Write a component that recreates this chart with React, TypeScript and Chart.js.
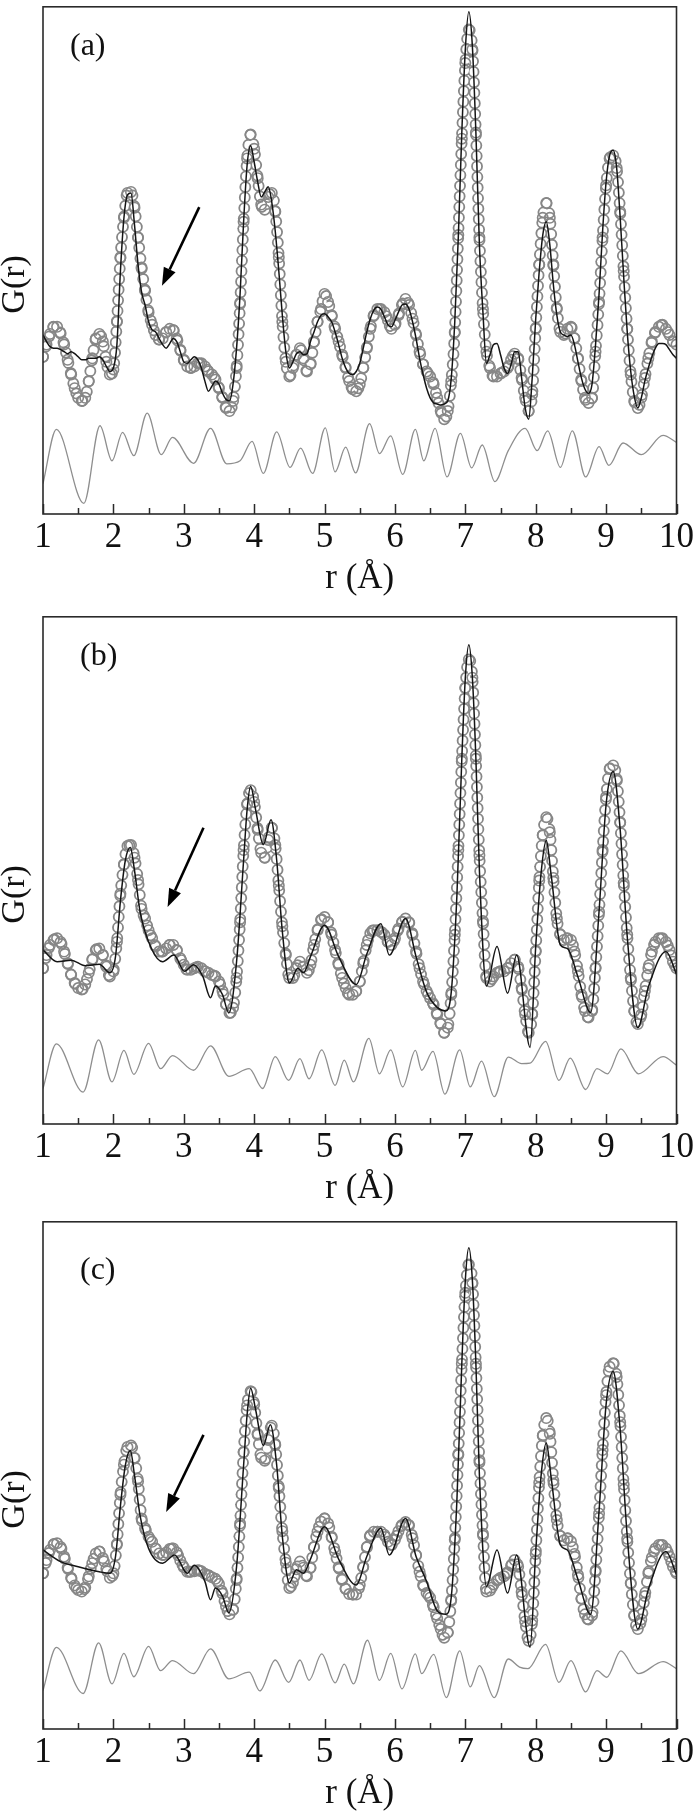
import React, { useEffect, useRef } from "react";
import { Chart, registerables } from "chart.js";
Chart.register(...registerables);

const FONT = "'Liberation Serif', 'Times New Roman', serif";
const AXIS_H = 84;

// r grid (Å) for the sampled experimental and fit curves: 1.00 .. 10.00 step 0.05
const rGrid: number[] = Array.from({ length: 181 }, (_, i) => +(1 + i * 0.05).toFixed(2));
const xMajorTicks = [1, 2, 3, 4, 5, 6, 7, 8, 9, 10];
const xMinorTicks = [1.5, 2.5, 3.5, 4.5, 5.5, 6.5, 7.5, 8.5, 9.5];

type Pt = [number, number];

// ---------- panel (a) ----------
const expA = [
  31.0, 33.4, 35.5, 36.9, 36.9, 35.6, 33.4, 30.4, 27.5, 24.8, 22.9, 22.3, 22.9, 26.2, 30.7, 34.6, 35.5, 34.0, 30.0, 27.5,
  28.5, 37.9, 50.6, 58.4, 63.3, 63.5, 60.4, 54.5, 48.6, 44.0, 39.8, 37.3, 35.3, 34.4, 34.6, 35.9, 36.5, 36.3, 34.6, 32.4,
  30.4, 29.1, 28.8, 29.1, 29.7, 29.7, 29.1, 28.1, 27.5, 26.5, 24.8, 22.9, 20.9, 20.3, 22.3, 28.8, 41.4, 57.6, 70.1, 74.8,
  72.0, 66.2, 61.0, 60.0, 62.5, 63.3, 59.6, 50.6, 37.9, 30.0, 27.1, 28.8, 31.4, 32.7, 30.7, 28.1, 29.5, 34.0, 37.9, 40.4,
  43.4, 41.8, 39.2, 36.5, 34.0, 31.4, 28.8, 26.2, 24.6, 24.2, 25.6, 28.8, 32.7, 36.5, 39.2, 40.4, 40.4, 39.8, 38.2, 36.5,
  37.3, 39.2, 41.2, 42.4, 41.2, 38.5, 35.3, 32.0, 29.5, 28.1, 27.1, 25.6, 22.9, 20.3, 18.7, 20.3, 26.2, 35.9, 55.0, 74.0,
  88.9, 95.5, 91.6, 75.2, 54.5, 40.4, 32.0, 28.8, 27.1, 27.1, 27.7, 28.1, 28.8, 30.4, 31.6, 30.7, 26.8, 22.9, 20.3, 23.6,
  36.5, 49.2, 58.4, 61.3, 58.4, 49.2, 40.4, 35.9, 35.3, 36.5, 36.9, 34.6, 30.7, 26.2, 22.9, 21.9, 22.9, 32.0, 41.8, 54.5,
  64.8, 70.1, 70.7, 68.2, 59.6, 47.9, 36.5, 27.5, 22.3, 20.9, 22.9, 26.8, 30.7, 34.0, 35.9, 36.9, 37.3, 36.5, 35.3, 34.0,
  33.4,
];
const fitA = [
  35.3, 34.0, 33.0, 32.7, 32.7, 32.4, 32.0, 31.6, 32.0, 31.6, 31.0, 30.4, 30.4, 30.7, 30.7, 30.7, 31.0, 30.4, 29.1, 28.1,
  28.8, 33.4, 47.9, 58.4, 62.9, 63.3, 57.0, 49.2, 43.8, 41.2, 37.9, 36.3, 35.9, 34.6, 33.4, 32.7, 33.6, 34.6, 34.0, 32.0,
  30.0, 29.7, 30.4, 31.0, 30.4, 28.8, 26.2, 24.2, 25.2, 26.2, 25.6, 23.8, 22.6, 22.3, 25.6, 32.7, 43.4, 57.6, 68.8, 72.6,
  69.4, 65.5, 62.5, 63.5, 64.5, 61.5, 55.7, 47.9, 39.2, 32.0, 28.8, 30.0, 31.6, 32.0, 31.4, 31.6, 34.0, 35.9, 37.9, 39.2,
  39.5, 38.9, 37.9, 35.9, 33.4, 30.7, 28.8, 27.7, 27.5, 28.1, 29.7, 32.7, 35.9, 38.5, 40.2, 40.8, 40.4, 38.9, 37.3, 36.9,
  38.2, 39.8, 41.2, 41.4, 40.4, 37.9, 34.6, 30.7, 27.5, 24.8, 22.9, 21.9, 21.7, 21.5, 21.7, 22.3, 26.8, 37.9, 54.5, 75.2,
  91.6, 99.0, 92.2, 75.2, 53.1, 39.8, 29.7, 31.4, 33.4, 33.6, 31.4, 28.8, 27.7, 29.5, 32.0, 32.0, 26.8, 20.9, 18.7, 26.8,
  38.5, 47.9, 55.0, 57.6, 53.1, 45.3, 39.2, 35.9, 35.3, 35.0, 35.3, 33.4, 30.0, 26.8, 24.6, 23.8, 25.6, 33.4, 43.4, 55.7,
  65.5, 70.7, 71.7, 68.2, 58.4, 46.7, 35.9, 28.1, 23.2, 20.9, 22.9, 26.2, 28.8, 31.0, 32.7, 33.6, 33.6, 33.4, 32.4, 31.4,
  30.7,
];
const diffA: Pt[] = [
  [1.0, 6.0], [1.19, 16.7], [1.58, 2.1], [1.81, 17.4], [1.98, 10.5], [2.13, 16.1], [2.29, 11.5], [2.48, 19.9],
  [2.68, 11.7], [2.84, 15.1], [3.14, 10.0], [3.38, 16.9], [3.61, 9.9], [3.8, 10.5], [3.97, 14.3], [4.13, 8.0],
  [4.32, 16.2], [4.51, 9.2], [4.66, 13.0], [4.83, 8.0], [5.01, 17.0], [5.15, 8.3], [5.3, 13.2], [5.44, 8.1],
  [5.64, 17.8], [5.78, 11.9], [5.94, 15.4], [6.11, 7.8], [6.29, 16.7], [6.41, 10.5], [6.57, 16.9], [6.74, 7.3],
  [6.93, 15.9], [7.09, 9.1], [7.24, 13.6], [7.42, 6.4], [7.61, 12.5], [7.85, 16.9], [8.02, 12.5], [8.17, 16.4],
  [8.35, 9.2], [8.52, 16.4], [8.71, 7.3], [8.9, 13.3], [9.04, 9.6], [9.24, 14.0], [9.5, 11.7], [9.81, 15.5], [10.0, 14.1],
];
const arrowA: Pt[] = [[3.22, 60.5], [2.69, 45.0]];

// ---------- panel (b) ----------
const expB = [
  30.7, 33.3, 35.3, 36.3, 36.6, 35.9, 34.0, 31.7, 29.4, 27.8, 26.8, 26.5, 27.5, 29.8, 32.4, 34.3, 34.6, 33.3, 31.0, 29.1,
  30.1, 35.9, 45.4, 51.2, 54.8, 55.0, 52.5, 48.1, 42.4, 40.5, 38.2, 36.6, 35.0, 34.0, 34.0, 34.6, 35.3, 35.3, 34.3, 32.7,
  31.4, 30.4, 30.4, 30.7, 31.0, 30.7, 30.1, 29.8, 29.4, 29.1, 28.1, 26.2, 23.6, 21.9, 22.9, 28.8, 39.8, 54.0, 63.0, 65.8,
  63.5, 58.0, 53.5, 52.5, 56.0, 58.4, 55.0, 47.0, 39.0, 33.3, 28.8, 28.8, 30.7, 32.0, 31.0, 29.8, 31.4, 35.3, 38.2, 40.2,
  40.8, 39.8, 37.3, 34.3, 31.4, 28.8, 26.8, 25.5, 25.5, 26.2, 28.1, 31.7, 35.3, 37.6, 38.2, 38.2, 37.9, 37.3, 35.9, 35.3,
  36.6, 38.5, 39.8, 40.5, 39.8, 37.3, 34.0, 30.7, 28.1, 26.2, 24.8, 23.5, 21.6, 19.7, 18.0, 19.0, 25.5, 37.3, 54.0, 72.0,
  86.0, 91.6, 88.0, 72.0, 53.0, 40.0, 28.8, 28.1, 29.1, 29.8, 30.1, 30.1, 30.7, 31.7, 32.4, 31.0, 26.8, 21.6, 18.0, 21.6,
  34.0, 48.0, 57.0, 60.5, 57.5, 48.5, 40.5, 37.3, 36.3, 36.6, 36.3, 34.0, 30.1, 25.5, 22.3, 21.0, 22.3, 30.7, 41.8, 54.0,
  64.5, 70.0, 70.7, 68.0, 59.5, 47.5, 37.3, 28.8, 22.3, 19.7, 21.6, 26.2, 30.7, 34.0, 35.9, 36.6, 36.6, 35.9, 34.3, 32.0,
  30.7,
];
const fitB: Pt[] = [
  [1.0, 34.3], [1.2, 32.0], [1.4, 32.3], [1.6, 31.2], [1.8, 31.5], [1.95, 29.8], [2.03, 33.0], [2.1, 44.0], [2.17, 52.0],
  [2.24, 54.5], [2.3, 50.0], [2.38, 41.8], [2.54, 34.6], [2.7, 32.0], [2.86, 33.3], [3.01, 30.1], [3.14, 31.4],
  [3.27, 29.1], [3.38, 24.9], [3.45, 27.2], [3.55, 25.5], [3.64, 21.9], [3.75, 32.0], [3.85, 52.0], [3.9, 62.0],
  [3.95, 66.6], [4.02, 62.0], [4.13, 55.1], [4.24, 60.0], [4.32, 52.0], [4.4, 38.0], [4.5, 27.8], [4.62, 30.7],
  [4.7, 29.8], [4.8, 33.0], [5.0, 39.2], [5.2, 33.0], [5.45, 27.5], [5.6, 33.5], [5.8, 39.5], [5.92, 33.3],
  [6.15, 40.5], [6.3, 33.0], [6.45, 26.0], [6.6, 23.0], [6.72, 22.3], [6.8, 26.0], [6.88, 45.0], [6.95, 72.0],
  [7.0, 88.0], [7.05, 94.5], [7.1, 88.0], [7.15, 72.0], [7.2, 50.0], [7.3, 27.2], [7.45, 35.0], [7.6, 25.8],
  [7.73, 33.3], [7.92, 15.1], [8.0, 35.0], [8.08, 50.0], [8.15, 55.9], [8.22, 49.0], [8.35, 35.3], [8.45, 34.6],
  [8.6, 29.0], [8.78, 22.0], [8.9, 42.0], [9.0, 63.0], [9.1, 69.5], [9.2, 58.0], [9.3, 37.0], [9.45, 19.0],
  [9.6, 27.0], [9.85, 34.0], [10.0, 29.5],
];
const diffB: Pt[] = [
  [1.0, 7.0], [1.19, 15.8], [1.57, 6.3], [1.79, 16.6], [1.98, 8.3], [2.15, 14.5], [2.29, 9.8], [2.5, 15.9],
  [2.67, 10.9], [2.84, 13.5], [3.14, 10.6], [3.38, 15.4], [3.64, 9.4], [3.93, 10.9], [4.12, 7.0], [4.3, 13.3],
  [4.49, 8.6], [4.65, 12.9], [4.78, 8.9], [4.96, 14.6], [5.15, 7.6], [5.28, 12.6], [5.41, 8.3], [5.63, 16.9],
  [5.78, 9.9], [5.94, 14.6], [6.11, 7.3], [6.29, 14.5], [6.38, 10.6], [6.54, 14.3], [6.71, 5.9], [6.92, 14.6],
  [7.07, 7.3], [7.23, 12.4], [7.41, 5.4], [7.61, 13.2], [7.8, 11.9], [7.92, 12.0], [8.14, 16.3], [8.33, 8.6],
  [8.49, 13.0], [8.71, 6.8], [8.87, 10.9], [9.02, 9.9], [9.21, 14.8], [9.46, 9.9], [9.81, 13.3], [10.0, 11.6],
];
const arrowB: Pt[] = [[3.28, 58.4], [2.77, 42.8]];

// ---------- panel (c) ----------
const expC = [
  30.7, 33.3, 35.3, 36.4, 36.6, 35.9, 34.0, 31.8, 29.8, 28.3, 27.4, 27.1, 27.9, 30.1, 32.7, 34.6, 35.0, 33.7, 31.6, 29.8,
  30.7, 36.5, 46.2, 52.1, 55.6, 55.9, 53.4, 48.8, 41.5, 39.6, 37.9, 36.9, 35.6, 34.6, 34.3, 34.8, 35.5, 35.6, 34.8, 33.2,
  31.9, 31.0, 31.0, 31.1, 31.3, 31.1, 30.6, 30.3, 29.9, 29.6, 28.6, 26.7, 24.2, 22.6, 23.5, 29.4, 40.5, 54.6, 63.8, 66.6,
  64.0, 58.0, 53.5, 52.9, 57.0, 59.8, 56.0, 47.5, 39.0, 32.8, 27.8, 28.9, 31.5, 33.0, 31.8, 30.1, 31.8, 35.9, 38.9, 40.9,
  41.5, 40.5, 37.9, 34.9, 31.9, 29.4, 27.6, 26.6, 26.5, 26.5, 28.4, 32.0, 35.8, 38.2, 38.9, 38.9, 38.9, 38.3, 36.9, 36.3,
  37.3, 39.0, 40.2, 40.8, 40.1, 37.6, 34.3, 31.0, 28.4, 26.8, 25.9, 24.0, 21.8, 19.7, 18.0, 19.0, 25.5, 37.3, 54.0, 72.0,
  86.0, 91.6, 88.0, 72.0, 53.0, 38.5, 27.1, 27.3, 28.5, 29.3, 29.8, 30.1, 30.9, 32.2, 33.3, 32.0, 27.0, 21.2, 17.4, 21.4,
  34.5, 48.6, 57.8, 61.3, 58.2, 49.0, 41.2, 38.0, 37.2, 37.6, 37.0, 34.5, 30.4, 25.7, 22.6, 21.6, 22.4, 31.0, 42.5, 55.0,
  65.8, 71.4, 72.1, 69.4, 60.5, 48.2, 37.5, 28.8, 22.3, 19.7, 21.6, 26.2, 30.7, 33.8, 35.6, 36.3, 36.3, 35.6, 34.0, 32.0,
  30.7,
];
const fitC: Pt[] = [
  [1.0, 35.3], [1.25, 33.0], [1.5, 32.0], [1.8, 31.0], [1.95, 30.7], [2.03, 34.0], [2.1, 44.0], [2.17, 52.0],
  [2.24, 54.9], [2.3, 50.0], [2.38, 42.0], [2.5, 35.6], [2.7, 32.7], [2.87, 34.3], [3.05, 30.7], [3.15, 32.3],
  [3.3, 29.1], [3.38, 25.5], [3.45, 27.8], [3.55, 26.2], [3.64, 22.9], [3.75, 32.0], [3.85, 52.0], [3.9, 62.0],
  [3.95, 67.2], [4.02, 63.0], [4.13, 55.9], [4.23, 60.0], [4.32, 52.0], [4.4, 38.0], [4.5, 28.8], [4.6, 31.4],
  [4.7, 30.7], [4.8, 33.5], [5.0, 39.9], [5.2, 33.5], [5.45, 28.4], [5.6, 34.0], [5.8, 39.6], [5.92, 34.3],
  [6.15, 41.5], [6.3, 34.0], [6.45, 29.1], [6.6, 23.3], [6.72, 22.6], [6.8, 26.0], [6.88, 45.0], [6.95, 72.0],
  [7.0, 88.5], [7.05, 94.9], [7.1, 88.5], [7.15, 72.0], [7.2, 50.0], [7.3, 28.1], [7.45, 35.3], [7.6, 26.8],
  [7.73, 34.3], [7.92, 16.1], [8.0, 35.0], [8.08, 50.5], [8.15, 56.4], [8.22, 49.5], [8.35, 36.3], [8.45, 35.3],
  [8.6, 29.5], [8.78, 22.6], [8.9, 43.0], [9.0, 64.0], [9.1, 70.5], [9.2, 59.0], [9.3, 38.0], [9.45, 19.7],
  [9.6, 27.5], [9.85, 35.0], [10.0, 30.4],
];
const diffC: Pt[] = [
  [1.0, 7.6], [1.19, 16.1], [1.57, 7.0], [1.79, 17.0], [1.98, 8.9], [2.15, 14.9], [2.29, 10.3], [2.5, 16.3],
  [2.67, 11.5], [2.84, 13.5], [3.14, 10.9], [3.38, 15.8], [3.64, 9.9], [3.93, 11.2], [4.08, 7.5], [4.3, 13.6],
  [4.49, 9.2], [4.65, 13.6], [4.78, 9.6], [4.96, 14.8], [5.15, 9.1], [5.28, 12.8], [5.41, 8.9], [5.61, 17.5],
  [5.78, 9.6], [5.94, 14.9], [6.1, 7.9], [6.29, 14.8], [6.38, 10.9], [6.55, 14.7], [6.73, 6.2], [6.92, 15.4],
  [7.07, 8.3], [7.2, 12.5], [7.41, 6.2], [7.61, 13.8], [7.77, 12.2], [7.89, 11.9], [8.14, 16.7], [8.33, 9.2],
  [8.5, 13.5], [8.71, 7.3], [8.87, 11.5], [9.01, 10.2], [9.21, 15.4], [9.46, 10.9], [9.81, 13.3], [10.0, 11.9],
];
const arrowC: Pt[] = [[3.28, 58.0], [2.75, 42.8]];

interface PanelSpec {
  label: string;
  exp: number[];
  fit: Pt[];
  diff: Pt[];
  arrow: Pt[];
  top: number;
  h: number;
  labelX: number;
  labelDy: number;
}

const gridPairs = (ys: number[]): Pt[] => ys.map((y, i) => [rGrid[i], y] as Pt);

const panels: PanelSpec[] = [
  { label: "(a)", exp: expA, fit: gridPairs(fitA), diff: diffA, arrow: arrowA, top: 0, h: 610, labelX: 70, labelDy: 40 },
  { label: "(b)", exp: expB, fit: fitB, diff: diffB, arrow: arrowB, top: 610, h: 605, labelX: 80, labelDy: 40 },
  { label: "(c)", exp: expC, fit: fitC, diff: diffC, arrow: arrowC, top: 1215, h: 598, labelX: 80, labelDy: 49 },
];

const GRAY = "#878787";

function makeDecor(p: PanelSpec) {
  return {
    id: "decor",
    afterDatasetsDraw(chart: any) {
      const { ctx, chartArea: a, scales } = chart;
      const x = scales.x;
      const y = scales.y;
      ctx.save();
      // frame
      ctx.strokeStyle = "#2a2a2a";
      ctx.lineWidth = 1.6;
      ctx.strokeRect(a.left, a.top, a.right - a.left, a.bottom - a.top);
      // inward ticks on r axis
      ctx.lineWidth = 1.5;
      ctx.beginPath();
      for (const t of xMajorTicks) {
        const px = Math.round(x.getPixelForValue(t)) + 0.5;
        ctx.moveTo(px, a.bottom);
        ctx.lineTo(px, a.bottom - 10);
      }
      for (const t of xMinorTicks) {
        const px = Math.round(x.getPixelForValue(t)) + 0.5;
        ctx.moveTo(px, a.bottom);
        ctx.lineTo(px, a.bottom - 6);
      }
      ctx.stroke();
      // arrow
      const [from, to] = p.arrow;
      const x0 = x.getPixelForValue(from[0]);
      const y0 = y.getPixelForValue(from[1]);
      const x1 = x.getPixelForValue(to[0]);
      const y1 = y.getPixelForValue(to[1]);
      const ang = Math.atan2(y1 - y0, x1 - x0);
      const headLen = 18;
      const headHalf = 6.5;
      const bx = x1 - headLen * Math.cos(ang);
      const by = y1 - headLen * Math.sin(ang);
      ctx.strokeStyle = "#000";
      ctx.lineWidth = 2.6;
      ctx.beginPath();
      ctx.moveTo(x0, y0);
      ctx.lineTo(bx, by);
      ctx.stroke();
      ctx.fillStyle = "#000";
      ctx.beginPath();
      ctx.moveTo(x1, y1);
      ctx.lineTo(bx + headHalf * Math.sin(ang), by - headHalf * Math.cos(ang));
      ctx.lineTo(bx - headHalf * Math.sin(ang), by + headHalf * Math.cos(ang));
      ctx.closePath();
      ctx.fill();
      // panel label
      ctx.fillStyle = "#111";
      ctx.font = `32px ${FONT}`;
      ctx.textAlign = "left";
      ctx.textBaseline = "middle";
      ctx.fillText(p.label, p.labelX, a.top + p.labelDy);
      // y-axis title G(r)
      ctx.font = `34px ${FONT}`;
      ctx.translate(15, (a.top + a.bottom) / 2 + 24);
      ctx.rotate(-Math.PI / 2);
      ctx.textAlign = "center";
      ctx.textBaseline = "middle";
      ctx.fillText("G(r)", 0, 0);
      ctx.restore();
    },
  };
}

function Panel({ p }: { p: PanelSpec }) {
  const ref = useRef<HTMLCanvasElement>(null);
  useEffect(() => {
    const expPts = p.exp.map((v, i) => ({ x: rGrid[i], y: v }));
    const fitPts = p.fit.map(([r, v]) => ({ x: r, y: v }));
    const diffPts = p.diff.map(([r, v]) => ({ x: r, y: v }));
    const ringLine = (color: string, width: number, order: number) => ({
      label: "experiment-chain",
      data: expPts,
      borderColor: color,
      borderWidth: width,
      borderDash: [0.01, 10.5],
      borderCapStyle: "round",
      pointRadius: 0,
      cubicInterpolationMode: "monotone",
      clip: 0,
      order,
    });
    const chart = new Chart(ref.current as HTMLCanvasElement, {
      type: "line",
      data: {
        datasets: [
          {
            label: "fit",
            data: fitPts,
            borderColor: "#141414",
            borderWidth: 1.5,
            pointRadius: 0,
            cubicInterpolationMode: "monotone",
            clip: 0,
            order: 0,
          },
          {
            label: "experiment",
            data: expPts,
            showLine: false,
            pointRadius: 5.2,
            pointBorderWidth: 1.6,
            pointBorderColor: GRAY,
            pointBackgroundColor: "rgba(0,0,0,0)",
            clip: 0,
            order: 1,
          },
          ringLine("#ffffff", 8.2, 2),
          ringLine(GRAY, 11.8, 3),
          {
            label: "difference",
            data: diffPts,
            borderColor: "#8e8e8e",
            borderWidth: 1.3,
            pointRadius: 0,
            cubicInterpolationMode: "monotone",
            clip: 0,
            order: 4,
          },
        ] as any,
      },
      options: {
        responsive: false,
        animation: false,
        events: [],
        layout: { padding: { left: 43, right: 17, top: 2, bottom: p.h - 514 - AXIS_H } },
        plugins: { legend: { display: false }, tooltip: { enabled: false } },
        scales: {
          x: {
            type: "linear",
            min: 1,
            max: 10,
            afterFit: (s: any) => {
              s.height = AXIS_H;
            },
            ticks: {
              stepSize: 1,
              autoSkip: false,
              maxRotation: 0,
              color: "#111",
              padding: 6,
              font: { family: FONT, size: 35, lineHeight: 1 },
            },
            grid: { display: false, drawTicks: false },
            border: { display: false },
            title: {
              display: true,
              text: "r (Å)",
              color: "#111",
              font: { family: FONT, size: 35, lineHeight: 1 },
              padding: { top: 0, bottom: 2 },
            },
          },
          y: { type: "linear", min: 0, max: 100, display: false },
        },
      } as any,
      plugins: [makeDecor(p)],
    });
    return () => chart.destroy();
  }, []);
  return (
    <canvas
      ref={ref}
      width={700}
      height={p.h}
      style={{ position: "absolute", left: 0, top: p.top, width: 700, height: p.h, display: "block" }}
    />
  );
}

export default function App() {
  return (
    <div style={{ position: "absolute", left: 0, top: 0, width: 700, height: 1813, background: "#fff" }}>
      {panels.map((p) => (
        <Panel key={p.label} p={p} />
      ))}
    </div>
  );
}
